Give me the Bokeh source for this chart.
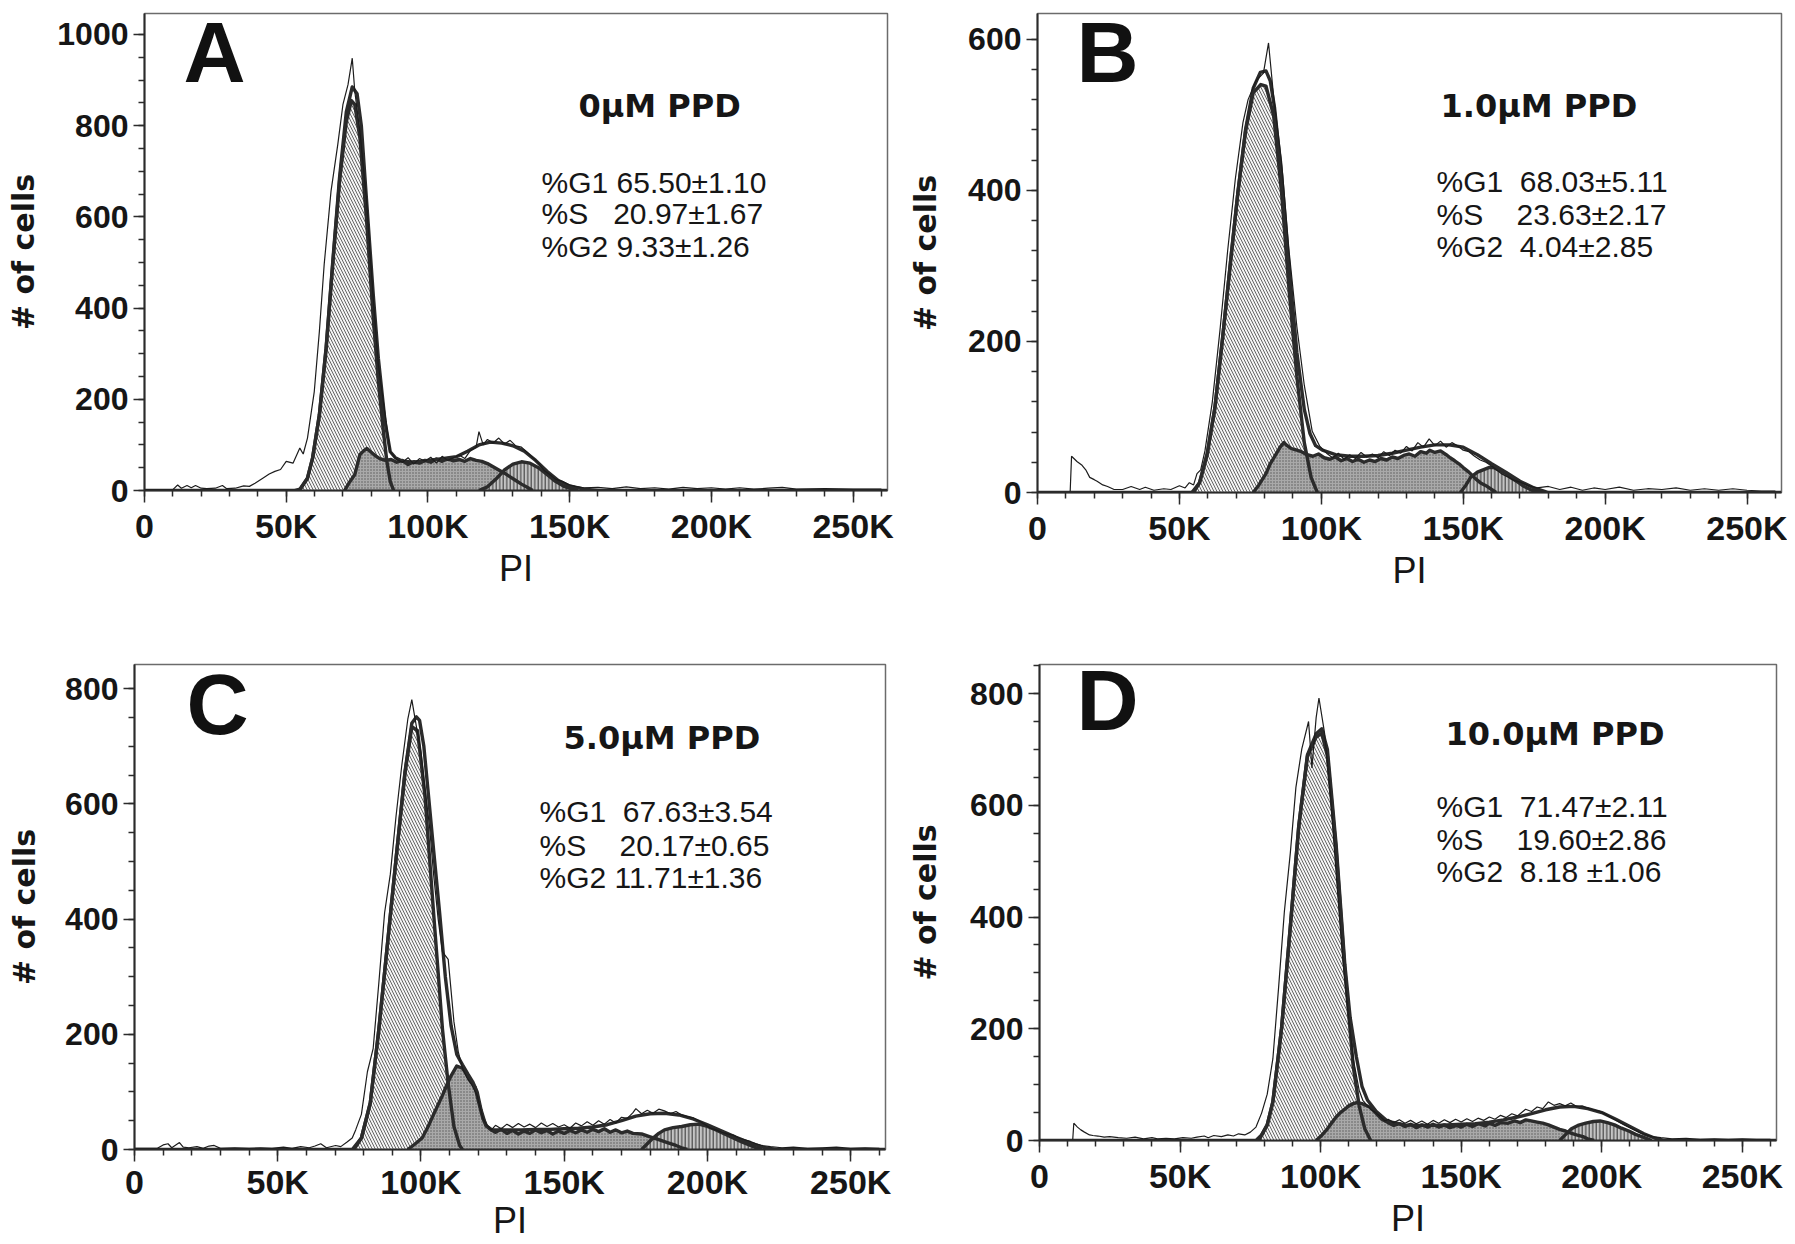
from bokeh.plotting import figure
from bokeh.models import Label, FixedTicker, Range1d
from bokeh.layouts import row, column
from bokeh.embed import file_html
from bokeh.resources import INLINE

# PI channel in thousands, counts = # of cells
X_MAX = 262.144
x_ticks = [0, 50, 100, 150, 200, 250]
x_tick_labels = ["0", "50K", "100K", "150K", "200K", "250K"]

# ---------------- panel A : 0 uM PPD ----------------
a_raw = [(0, 2), (10, 2), (11.7, 12), (13, 5), (15, 11), (16.5, 6), (18, 11), (20, 5), (22, 4), (25, 5),
         (27.5, 11), (29, 4), (32, 5), (35, 10), (37, 9), (39, 16), (42, 28), (44, 36), (46, 42), (48, 46),
         (50, 64), (52.4, 60), (54.8, 93), (56, 80), (57.5, 115), (59.9, 217), (61.7, 349), (63.4, 496),
         (65.8, 656), (68.2, 759), (70, 846), (71.8, 890), (73.3, 948), (74.2, 875), (76, 787), (78.3, 640),
         (80.7, 421), (82.5, 276), (84.9, 166), (86.7, 85), (89, 68), (91, 62), (93, 72), (95, 58), (97, 70),
         (99, 64), (101, 73), (103, 60), (105, 75), (107, 66), (109, 72), (111, 78), (113, 70), (115, 88),
         (117, 95), (118, 129), (119.5, 100), (121, 112), (123, 104), (125, 115), (127, 102), (129, 110),
         (131, 98), (133, 95), (135, 84), (137, 72), (139, 60), (141, 44), (143, 35), (145, 25), (147.4, 20),
         (150, 12), (152, 9), (155, 6), (160, 7), (165, 4), (170, 8), (175, 4), (180, 6), (185, 3), (190, 7),
         (195, 4), (200, 6), (205, 3), (210, 6), (215, 3), (220, 5), (225, 7), (230, 3), (240, 4), (250, 3),
         (260, 3)]
a_fit = [(0, 0), (53, 0), (55, 3), (57.5, 27), (59.3, 71), (61.7, 166), (64.1, 315), (66.4, 500), (68.8, 685),
         (71.2, 830), (73.3, 885), (75, 870), (76.5, 800), (78.3, 640), (80.7, 430), (82.5, 290), (84.9, 150),
         (86.7, 85), (88.5, 72), (91, 64), (95, 62), (100, 66), (105, 70), (110, 74), (114, 86), (118, 100),
         (122, 106), (126, 104), (130, 98), (134, 86), (138, 66), (142, 42), (146, 22), (150, 10), (155, 3),
         (160, 0), (262, 0)]
a_g1 = [(54.5, 0), (57.5, 27), (59.3, 71), (61.7, 166), (64.1, 312), (66.4, 495), (68.8, 677), (71.2, 809),
        (73, 855), (74.2, 846), (76, 773), (78.3, 597), (80.7, 378), (82.5, 239), (84.3, 129), (85.5, 64),
        (86.7, 20), (87.9, 0)]
a_s = [(70.6, 0), (72, 15), (74.2, 35), (76, 79), (77.5, 88), (78.5, 92), (80, 84), (81.5, 76), (83, 70),
       (85, 66), (87, 68), (89, 62), (91, 66), (93, 57), (95, 63), (97, 60), (99, 66), (101, 62), (103, 69),
       (105, 64), (107, 70), (109, 65), (111, 68), (113, 64), (115, 70), (117, 66), (119, 64), (121, 59),
       (123, 52), (125, 45), (127, 38), (129, 30), (131, 22), (133, 14), (135, 7), (137, 0)]
a_g2 = [(118, 0), (121, 8), (124, 25), (127, 45), (130, 58), (133, 63), (136, 60), (139, 50), (142, 35),
        (145, 20), (148, 9), (151, 3), (153, 0)]
a_dose = "0μM PPD"
a_stats = ["%G1 65.50±1.10", "%S   20.97±1.67", "%G2 9.33±1.26"]
a_yticks = [0, 200, 400, 600, 800, 1000]

# ---------------- panel B : 1.0 uM PPD ----------------
b_raw = [(0, 0), (11.5, 0), (12, 48), (13.9, 41), (15.7, 36), (17, 30), (18.4, 20), (20, 17), (21, 15), (23, 10),
         (24.7, 8), (27, 4), (30, 4), (33, 8), (36, 4), (38, 7), (41, 3), (44.5, 5), (47, 4), (50, 9), (52, 6),
         (53.5, 13), (55, 10), (56.2, 25), (57.5, 30), (59, 55), (61.6, 120), (64.3, 215), (67, 320),
         (69.7, 415), (72.4, 490), (74.2, 520), (77, 545), (79.6, 555), (81.4, 595), (83.2, 524), (86, 438),
         (88.6, 321), (91.4, 219), (94, 142), (96.8, 81), (99.5, 61), (102.2, 51), (104, 46), (106, 52),
         (108, 44), (110, 50), (112, 45), (114, 53), (116, 47), (118, 51), (120, 46), (122, 54), (124, 49),
         (126, 56), (128, 52), (130, 61), (132, 55), (134, 66), (136, 60), (138, 71), (140, 62), (142, 68),
         (144, 60), (146, 66), (148, 62), (150, 56), (152, 54), (154, 48), (156, 43), (158, 40), (160, 35),
         (163.4, 25), (166, 20), (168, 16), (170.6, 13), (173, 9), (176, 6), (180, 8), (184, 4), (188, 7),
         (192, 3), (196, 6), (200, 4), (205, 7), (210, 3), (215, 5), (220, 4), (225, 6), (230, 3), (235, 5),
         (240, 3), (245, 5), (250, 3), (255, 2), (260, 2)]
b_fit = [(0, 0), (55, 0), (57.1, 13), (59.8, 51), (62.5, 112), (65.2, 204), (68, 305), (70.6, 397), (73.3, 480),
         (76, 535), (78.5, 556), (80.5, 558), (82, 545), (83.5, 510), (86, 420), (88.6, 300), (91.4, 185),
         (94, 110), (96, 78), (98, 62), (100.4, 56), (105, 50), (110, 48), (115, 48), (120, 49), (125, 52),
         (130, 56), (135, 60), (140, 63), (145, 63), (150, 60), (155, 50), (160, 38), (165, 27), (170, 15),
         (175, 6), (180, 0), (262, 0)]
b_g1 = [(54.4, 0), (57.1, 13), (59.8, 51), (62.5, 112), (65.2, 204), (68, 305), (70.6, 397), (73.3, 478),
        (76, 529), (78.7, 540), (80.5, 538), (83.2, 499), (86, 397), (88.6, 270), (91.4, 153), (94, 66),
        (96.4, 20), (98.6, 0)]
b_s = [(76, 0), (78, 10), (80.5, 25), (82, 38), (84.1, 51), (85.5, 60), (86.8, 66), (88, 62), (89.5, 58),
       (91.4, 56), (93, 54), (95, 50), (97, 48), (99, 51), (101, 46), (103, 44), (105, 47), (107, 42), (109, 45),
       (111, 41), (113, 44), (115, 40), (117, 43), (119, 41), (121, 45), (123, 43), (125, 47), (127, 45),
       (129, 49), (131, 51), (133, 48), (135, 54), (137, 52), (138.2, 56), (140, 53), (142, 55), (144, 50),
       (145.4, 46), (147, 42), (148.5, 38), (150, 33), (152, 27), (154.4, 18), (156, 13), (158, 9), (160, 4),
       (161.6, 0)]
b_g2 = [(149, 0), (151, 10), (152.6, 20), (155, 27), (157, 30), (159, 33), (160.7, 33), (163, 29), (165.2, 25),
        (167, 19), (168.8, 15), (171, 9), (174.2, 3), (177.8, 0)]
b_dose = "1.0μM PPD"
b_stats = ["%G1  68.03±5.11", "%S    23.63±2.17", "%G2  4.04±2.85"]
b_yticks = [0, 200, 400, 600]

# ---------------- panel C : 5.0 uM PPD ----------------
c_raw = [(0, 2), (8, 2), (10, 8), (11.7, 10), (13, 3), (15.7, 12), (17, 4), (19, 3), (21.8, 5), (24, 2), (26, 6),
         (27.8, 7), (30, 2), (35, 3), (40, 2), (44, 3), (48, 2), (52, 4), (55, 2), (58, 5), (61, 3), (63, 6),
         (65, 10), (67, 3), (70.2, 7), (72, 5), (74.2, 13), (76, 20), (77.2, 34), (79.2, 61), (81.3, 135),
         (83.3, 175), (85.3, 290), (87.3, 411), (89.3, 478), (91.3, 579), (93.3, 667), (95.4, 747), (96.8, 781),
         (98.4, 734), (100, 690), (101.4, 626), (103, 560), (104.4, 478), (106, 400), (107.5, 343), (109.5, 330),
         (111.5, 222), (113, 170), (114.5, 141), (116, 125), (117.5, 114), (119.6, 94), (121.6, 54), (123, 42),
         (124.6, 34), (126, 42), (128, 36), (130, 44), (132, 38), (134, 45), (136, 39), (138, 44), (140, 38),
         (142, 46), (144, 40), (146, 45), (148, 39), (150, 43), (152, 37), (154, 46), (156, 41), (158, 48),
         (160, 42), (162, 50), (164, 44), (166, 52), (168, 46), (170, 56), (172, 54), (174, 64), (175, 71),
         (177, 62), (179, 68), (181, 63), (183, 70), (185, 67), (187, 62), (189, 66), (191, 60), (193, 57),
         (195, 55), (197, 50), (199, 44), (201, 37), (203, 34), (205, 30), (207, 27), (209, 25), (211, 20),
         (213, 17), (215, 14), (217, 10), (219, 7), (222, 5), (226, 3), (230, 4), (235, 2), (240, 3), (245, 4),
         (250, 2), (255, 3), (260, 2)]
c_fit = [(0, 0), (76, 0), (79.2, 20), (82.3, 81), (85.3, 209), (88.3, 357), (91.3, 505), (94.4, 655), (96.8, 740),
         (98.4, 751), (99.5, 745), (101, 700), (102.4, 626), (104.4, 520), (106.5, 411), (108.5, 300),
         (110.5, 215), (112.5, 165), (114.5, 147), (116.5, 130), (118, 118), (119.6, 100), (121, 68),
         (122.6, 42), (124.6, 34), (130, 34), (135, 34), (140, 35), (145, 35), (150, 36), (155, 37), (160, 39),
         (165, 43), (170, 50), (175, 58), (180, 62), (185, 63), (190, 60), (195, 53), (200, 43), (205, 32),
         (210, 21), (215, 11), (220, 3), (224, 0), (262, 0)]
c_g1 = [(76.6, 0), (79.2, 20), (82.3, 81), (85.3, 209), (88.3, 357), (91.3, 505), (94.4, 653), (96.8, 734),
        (98.8, 727), (101.4, 613), (104.4, 411), (107.5, 209), (109.5, 114), (111.5, 40), (113.5, 7), (114.5, 0)]
c_s = [(95.4, 0), (98, 10), (100.4, 20), (102.5, 40), (104.4, 61), (106, 78), (107.5, 94), (109, 112),
       (110.5, 128), (112.5, 145), (114.5, 141), (116, 130), (116.9, 121), (118.9, 108), (120, 85), (121.6, 54),
       (123, 40), (124.6, 34), (126, 30), (128, 35), (130, 28), (132, 33), (134, 27), (136, 32), (138, 28),
       (140, 34), (142, 29), (144, 33), (146, 27), (148, 32), (150, 28), (152, 33), (154, 29), (156, 34),
       (158, 30), (160, 35), (162, 31), (164, 36), (166, 30), (168, 34), (170, 29), (172, 32), (174, 28),
       (177, 27), (180, 22), (183, 17), (186, 12), (189, 7), (191, 3), (193, 0)]
c_g2 = [(177, 0), (179, 10), (181, 20), (183, 28), (185, 34), (188, 38), (191, 40), (194, 43), (197, 44),
        (200, 40), (203, 34), (206, 27), (209, 20), (212, 13), (215, 7), (217, 3), (219, 0)]
c_dose = "5.0μM PPD"
c_stats = ["%G1  67.63±3.54", "%S    20.17±0.65", "%G2 11.71±1.36"]
c_yticks = [0, 200, 400, 600, 800]

# ---------------- panel D : 10.0 uM PPD ----------------
d_raw = [(0, 0), (11.8, 0), (12.2, 31), (13.5, 24), (14.7, 19), (16, 15), (17.8, 10), (19, 9), (20.8, 8), (23, 6),
         (25, 7), (28, 5), (31, 4), (34, 6), (37, 3), (40, 5), (42, 3), (45, 4), (48, 3), (51, 5), (54, 4), (56, 6),
         (58.6, 8), (60, 5), (62, 9), (64.7, 7), (67, 10), (69, 8), (70.8, 12), (73, 10), (75, 15), (77, 24),
         (79, 49), (81, 83), (83, 146), (85, 271), (87.1, 410), (89.2, 514), (91.2, 632), (93.3, 701),
         (95.7, 750), (96.9, 667), (98.4, 757), (99.4, 792), (101.4, 729), (103.5, 618), (105.5, 479),
         (107.6, 340), (109.6, 236), (111.6, 146), (113.7, 90), (115, 72), (116.7, 62), (118, 55), (119.8, 49),
         (121, 44), (122.9, 35), (124, 38), (126, 32), (128, 37), (130, 31), (132, 36), (134, 30), (136, 35),
         (138, 29), (140, 36), (142, 31), (144, 37), (146, 32), (148, 38), (150, 33), (152, 39), (154, 34),
         (156, 40), (158, 36), (160, 42), (162, 38), (164, 45), (166, 41), (168, 48), (170, 44), (172.9, 56),
         (175, 52), (177, 60), (179, 57), (181, 69), (183, 63), (185, 66), (187, 62), (189, 67), (191, 61),
         (193, 62), (195, 58), (197, 55), (199.4, 52), (202, 45), (205.5, 35), (208, 28), (211.6, 19), (214, 13),
         (217.8, 7), (221, 5), (225, 3), (230, 4), (235, 2), (240, 3), (245, 2), (250, 3), (255, 2), (260, 2)]
d_fit = [(0, 0), (77, 0), (79, 10), (81, 28), (83, 69), (86.1, 201), (89.2, 382), (92.2, 562), (95.3, 690),
         (98.4, 728), (100.4, 737), (102.4, 700), (105.5, 530), (108.6, 315), (110.5, 220), (112.7, 150),
         (114.7, 97), (116.7, 72), (119.8, 52), (123.9, 34), (130, 28), (135, 27), (140, 27), (145, 28), (150, 29),
         (155, 30), (160, 33), (165, 37), (170, 42), (175, 48), (180, 55), (185, 60), (190, 61), (195, 57),
         (200, 50), (205, 38), (210, 25), (215, 12), (219, 4), (222, 0), (262, 0)]
d_g1 = [(78, 0), (81, 28), (83, 69), (86.1, 201), (89.2, 382), (92.2, 562), (95.3, 688), (98.4, 722), (100.4, 729),
        (102.4, 688), (105.5, 521), (108.6, 306), (111.6, 132), (113.7, 62), (115.7, 21), (117.8, 0)]
d_s = [(98.4, 0), (100.5, 10), (102.4, 21), (104, 32), (105.5, 42), (107, 50), (108.6, 56), (110, 62),
       (111.6, 66), (113, 68), (114.7, 66), (116, 63), (117.8, 59), (119.5, 50), (121.8, 38), (124, 32), (126, 27),
       (128, 30), (130, 25), (132, 29), (134, 23), (136, 28), (138.2, 24), (140, 29), (142, 24), (144, 28),
       (146, 23), (148.4, 27), (150, 24), (152, 29), (154, 25), (156, 30), (158.6, 26), (160, 31), (162, 27),
       (164, 32), (166.7, 31), (169, 35), (171, 32), (173, 37), (174.9, 35), (177, 33), (179, 31), (181, 28),
       (183, 24), (185, 20), (187.1, 17), (189, 13), (191, 10), (193.3, 7), (195, 3), (197.3, 0)]
d_g2 = [(185, 0), (187, 10), (189.2, 21), (191.5, 27), (194.3, 31), (197, 34), (199.4, 35), (202, 32),
        (204.5, 28), (207, 22), (209.6, 17), (212, 11), (214.7, 6), (217.8, 0)]
d_dose = "10.0μM PPD"
d_stats = ["%G1  71.47±2.11", "%S    19.60±2.86", "%G2  8.18 ±1.06"]
d_yticks = [0, 200, 400, 600, 800]

INK = "#2b2b2b"


def xy(pts):
    return [p[0] for p in pts], [p[1] for p in pts]


def make_panel(letter, dose, stats, curves, ymax, yticks, ystep, box, lay):
    fw, fh = box["fw"], box["fh"]
    p = figure(frame_width=fw, frame_height=fh,
               x_range=Range1d(0, X_MAX), y_range=Range1d(0, ymax),
               min_border_left=box["l"], min_border_right=box["r"],
               min_border_top=box["t"], min_border_bottom=box["b"],
               output_backend="svg", toolbar_location=None)
    p.grid.visible = False
    p.background_fill_color = "white"
    p.border_fill_color = "white"
    p.outline_line_color = "#6b6b6b"
    p.outline_line_width = 1.5

    p.xaxis.ticker = FixedTicker(ticks=x_ticks, minor_ticks=list(range(0, 261, 10)))
    p.xaxis.major_label_overrides = dict(zip(x_ticks, x_tick_labels))
    p.yaxis.ticker = FixedTicker(ticks=yticks, minor_ticks=list(range(0, int(ymax) + 1, ystep)))

    p.axis.axis_line_color = INK
    p.axis.axis_line_width = 2
    p.axis.major_tick_line_color = INK
    p.axis.minor_tick_line_color = INK
    p.axis.major_tick_line_width = 1.5
    p.axis.minor_tick_line_width = 1.5
    p.axis.major_tick_in = 0
    p.axis.minor_tick_in = 0
    p.xaxis.major_tick_out = 12
    p.yaxis.major_tick_out = 11
    p.axis.minor_tick_out = 6
    p.axis.major_label_text_font = "Liberation Sans"
    p.axis.major_label_text_font_style = "bold"
    p.axis.major_label_text_color = "#161616"
    p.xaxis.major_label_text_font_size = "34px"
    p.yaxis.major_label_text_font_size = "32px"
    p.xaxis.major_label_standoff = box["xts"]
    p.yaxis.major_label_standoff = 5

    p.yaxis.axis_label = "# of cells"
    p.yaxis.axis_label_text_font = "DejaVu Sans"
    p.yaxis.axis_label_text_font_style = "bold"
    p.yaxis.axis_label_text_font_size = "30px"
    p.yaxis.axis_label_text_color = "#161616"
    p.yaxis.axis_label_standoff = box["yls"]
    p.xaxis.axis_label = "PI"
    p.xaxis.axis_label_text_font = "Liberation Sans"
    p.xaxis.axis_label_text_font_style = "normal"
    p.xaxis.axis_label_text_font_size = "36px"
    p.xaxis.axis_label_text_color = "#161616"
    p.xaxis.axis_label_standoff = box["xls"]

    raw, fit, g1, s, g2 = curves
    fills = [(g1, "#f4f4f4", "left_diagonal_line", "#555555", 6, 0.9),
             (s, "#a9a9a9", "dot", "#5a5a5a", 3, 1),
             (g2, "#c4c4c4", "vertical_line", "#333333", 3.5, 1)]
    for pts, fill, pat, hcol, scale, weight in fills:
        x, y = xy(pts)
        p.varea(x=x, y1=0, y2=y, fill_color=fill, hatch_pattern=pat,
                hatch_color=hcol, hatch_scale=scale, hatch_weight=weight)
    for pts in (g1, s, g2, fit):
        x, y = xy(pts)
        p.line(x, y, line_color=INK, line_width=3.4, line_join="round")
    x, y = xy(raw)
    p.line(x, y, line_color="#1c1c1c", line_width=1.2)

    # pixel offsets from the frame's top-left corner -> data coordinates
    def at(dx, dy):
        return dx / fw * X_MAX, ymax * (1 - dy / fh)

    lx, ly = at(*lay["letter"])
    p.add_layout(Label(x=lx, y=ly, text=letter, text_font="Liberation Sans",
                       text_font_style="bold", text_font_size="86px",
                       text_color="#111111", text_baseline="alphabetic"))
    tx, ty = at(*lay["title"])
    p.add_layout(Label(x=tx, y=ty, text=dose, text_font="DejaVu Sans",
                       text_font_style="bold", text_font_size="32px",
                       text_color="#161616", text_baseline="alphabetic"))
    sx, sdy = lay["stats"]
    for line, dy in zip(stats, sdy):
        x0, y0 = at(sx, dy)
        p.add_layout(Label(x=x0, y=y0, text=line.replace(" ", "\u00a0"),
                           text_font="Liberation Sans", text_font_size="30px",
                           text_color="#161616", text_baseline="alphabetic"))
    return p


pa = make_panel("A", a_dose, a_stats, (a_raw, a_fit, a_g1, a_s, a_g2), 1046, a_yticks, 50,
                dict(fw=743, fh=477, l=144, r=10, t=13, b=111, xts=4, xls=0, yls=13),
                dict(letter=(39, 38), title=(434, 92), stats=(397, [169, 200, 233])))
pb = make_panel("B", b_dose, b_stats, (b_raw, b_fit, b_g1, b_s, b_g2), 634, b_yticks, 40,
                dict(fw=744, fh=479, l=140, r=6, t=13, b=109, xts=4, xls=0, yls=22),
                dict(letter=(39, 38), title=(403, 92), stats=(399, [168, 201, 233])))
pc = make_panel("C", c_dose, c_stats, (c_raw, c_fit, c_g1, c_s, c_g2), 842, c_yticks, 50,
                dict(fw=751, fh=485, l=134, r=12, t=62, b=88, xts=1, xls=-4, yls=20),
                dict(letter=(52, 39), title=(429, 73), stats=(405, [147, 181, 213])))
pd_ = make_panel("D", d_dose, d_stats, (d_raw, d_fit, d_g1, d_s, d_g2), 852, d_yticks, 50,
                 dict(fw=737, fh=476, l=142, r=11, t=63, b=96, xts=4, xls=0, yls=24),
                 dict(letter=(37, 35), title=(406, 69), stats=(397, [142, 175, 207])))

layout = column(row(pa, pb), row(pc, pd_))

open("out.html", "w", encoding="utf-8").write(file_html(layout, INLINE))
